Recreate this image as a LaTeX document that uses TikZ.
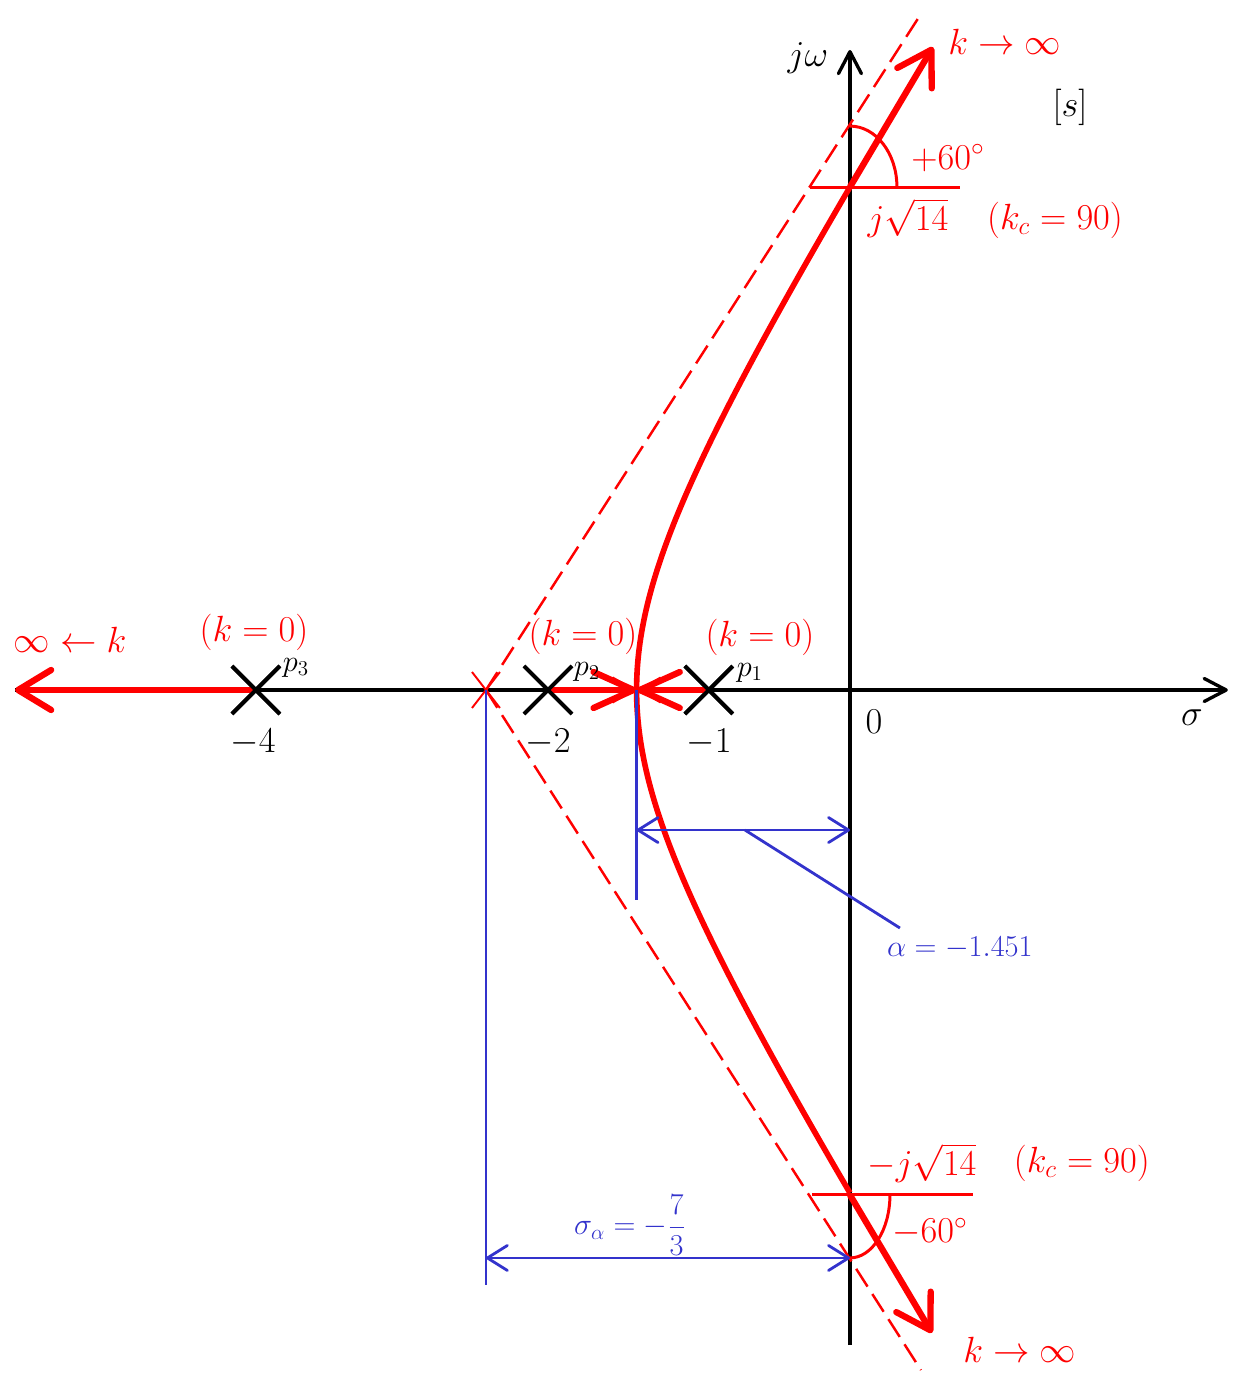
\documentclass[tikz,border=0pt]{standalone}
\usepackage{tikz}
\usetikzlibrary{arrows.meta,positioning,shapes.misc,calc}
\definecolor{locusRed}{RGB}{255,0,0}
\definecolor{dimBlue}{RGB}{51,51,204}

\begin{document}
\begin{tikzpicture}[
  x=2.94cm, y=2.688cm,
  axis/.style={line width=1.9pt,-{Straight Barb[length=4.4mm,width=4.6mm,round]}},
  pole/.style={draw,cross out,line width=2.2pt,minimum size=0.88cm,inner sep=0pt},
  locus/.style={locusRed,line width=3.2pt},
  branch/.style={locusRed,line width=3.6pt,-{Straight Barb[length=6.6mm,width=8mm,round]}},
  meet/.style={locusRed,line width=3.6pt,-{Straight Barb[length=8mm,width=7.2mm,round]}},
  meetthin/.style={locusRed,line width=1.1pt,-{Straight Barb[length=4.4mm,width=5mm]}},
  asymptote/.style={locusRed,line width=1.4pt,dash pattern=on 12pt off 5pt},
  anglemark/.style={locusRed,line width=1.7pt},
  dimline/.style={dimBlue,line width=1.6pt},
  dimarrow/.style={dimline,{Straight Barb[length=4mm,width=5mm,round]}-{Straight Barb[length=4mm,width=5mm,round]}},
  redlabel/.style={locusRed,font=\huge,inner sep=1pt},
  ticklabel/.style={font=\huge},
  polelabel/.style={font=\LARGE,inner sep=1pt},
  bluelabel/.style={dimBlue,font=\LARGE}
]
  \useasboundingbox (-5.782,-5.134) rectangle (2.646,5.134);

  % axes
  \coordinate (O) at (0,0);
  \coordinate (Sl) at (-5.68,0);
  \coordinate (Sr) at (2.571,0);
  \coordinate (Wb) at (0,-4.874);
  \coordinate (Wt) at (0,4.762);
  \draw[axis] (Sl) -- (Sr);
  \draw[axis] (Wb) -- (Wt);
  \node[font=\huge] (sigma) at (2.327,-0.208) {$\sigma$};
  \node[font=\huge] (jw) at (-0.286,4.702) {$j\omega$};
  \node[ticklabel] (zero) at (0.163,-0.238) {$0$};
  \node[font=\huge] (plane) at (1.497,4.338) {$[s]$};

  % special points
  \coordinate (B) at (-1.451,0);
  \coordinate (Wp) at (0,3.742);
  \coordinate (Wm) at (0,-3.757);
  \coordinate (Kleft) at (-5.68,0);
  \coordinate (Kup) at (0.565,4.784);
  \coordinate (Kdown) at (0.558,-4.784);
  \node[draw=locusRed,cross out,line width=1.1pt,minimum width=0.52cm,minimum height=0.68cm,inner sep=0pt] (C) at (-2.476,0) {};

  % asymptotes
  \coordinate (Au) at (0.483,5.030);
  \coordinate (Ad) at (0.483,-5.060);
  \draw[asymptote] (C.center) -- (Au);
  \draw[asymptote] (C.center) -- (Ad);

  % root locus
  \draw[locus] plot[domain=-3.7417:3.7417,samples=120,smooth] ({(-14+sqrt(28+12*\x*\x))/6},\x);
  \draw[branch] (Wp) -- (Kup);
  \draw[branch] (Wm) -- (Kdown);

  % poles
  \node[pole] (p1) at (-0.96,0) {};
  \node[pole] (p2) at (-2.054,0) {};
  \node[pole] (p3) at (-4.041,0) {};
  \draw[branch] (p3.center) -- (Kleft);
  \draw[meet] (p2.center) -- (B);
  \draw[meet] (p1.center) -- (B);
  \draw[meetthin] (p2.center) -- (B);
  \draw[meetthin] (p1.center) -- (B);
  \node[pole] at (p1) {};
  \node[pole] at (p2) {};
  \node[pole] at (p3) {};

  \node[polelabel] (p1lab) at (-0.681,0.128) {$p_1$};
  \node[polelabel] (p2lab) at (-1.789,0.135) {$p_2$};
  \node[polelabel] (p3lab) at (-3.769,0.165) {$p_3$};
  \node[ticklabel] (t1) at (-0.959,-0.387) {$-1$};
  \node[ticklabel] (t2) at (-2.054,-0.387) {$-2$};
  \node[ticklabel] (t4) at (-4.061,-0.387) {$-4$};
  \node[redlabel] (k1) at (-0.612,0.39) {$(k=0)$};
  \node[redlabel] (k2) at (-1.816,0.397) {$(k=0)$};
  \node[redlabel] (k3) at (-4.054,0.432) {$(k=0)$};
  \node[redlabel] (inf) at (-5.306,0.372) {$\infty\leftarrow k$};
  \node[redlabel] (infup) at (1.054,4.821) {$k\rightarrow\infty$};
  \node[redlabel] (infdown) at (1.156,-4.911) {$k\rightarrow\infty$};

  % crossing of the imaginary axis
  \coordinate (Hul) at (-0.272,3.742);
  \coordinate (Hur) at (0.748,3.742);
  \draw[anglemark] (Hul) -- (Hur);
  \draw[anglemark] ($(Wp)+(0.94cm,0)$) arc[start angle=0,end angle=90,x radius=0.94cm,y radius=1.22cm];
  \node[redlabel] (angup) at (0.667,3.958) {$+60^\circ$};
  \node[redlabel] (wup) at (0.395,3.512) {$j\sqrt{14}$};
  \node[redlabel] (kcup) at (1.395,3.497) {$(k_c=90)$};

  \coordinate (Hdl) at (-0.259,-3.757);
  \coordinate (Hdr) at (0.837,-3.757);
  \draw[anglemark] (Hdl) -- (Hdr);
  \draw[anglemark] ($(Wm)+(0.8cm,0)$) arc[start angle=0,end angle=-90,x radius=0.8cm,y radius=1.26cm];
  \node[redlabel] (angdown) at (0.544,-4.033) {$-60^\circ$};
  \node[redlabel] (wdown) at (0.490,-3.519) {$-j\sqrt{14}$};
  \node[redlabel] (kcdown) at (1.578,-3.519) {$(k_c=90)$};

  % breakaway dimension
  \coordinate (Bd) at (-1.451,-1.5625);
  \coordinate (Ba) at (-1.451,-1.042);
  \coordinate (Oa) at (0,-1.042);
  \coordinate (La) at (-0.714,-1.042);
  \coordinate (Lb) at (0.340,-1.771);
  \draw[dimline] (B) -- (Bd);
  \draw[dimarrow] (Ba) -- (Oa);
  \draw[dimline] (La) -- (Lb);
  \node[bluelabel] (alpha) at (0.748,-1.920) {$\alpha=-1.451$};

  % centroid dimension
  \coordinate (Cd) at (-2.476,-4.427);
  \coordinate (Ca) at (-2.476,-4.226);
  \coordinate (Oc) at (0,-4.226);
  \draw[dimline] (C.center) -- (Cd);
  \draw[dimarrow] (Ca) -- (Oc);
  \node[bluelabel] (sigalpha) at (-1.497,-3.981) {$\sigma_\alpha=-\displaystyle\frac{7}{3}$};
\end{tikzpicture}
\end{document}
